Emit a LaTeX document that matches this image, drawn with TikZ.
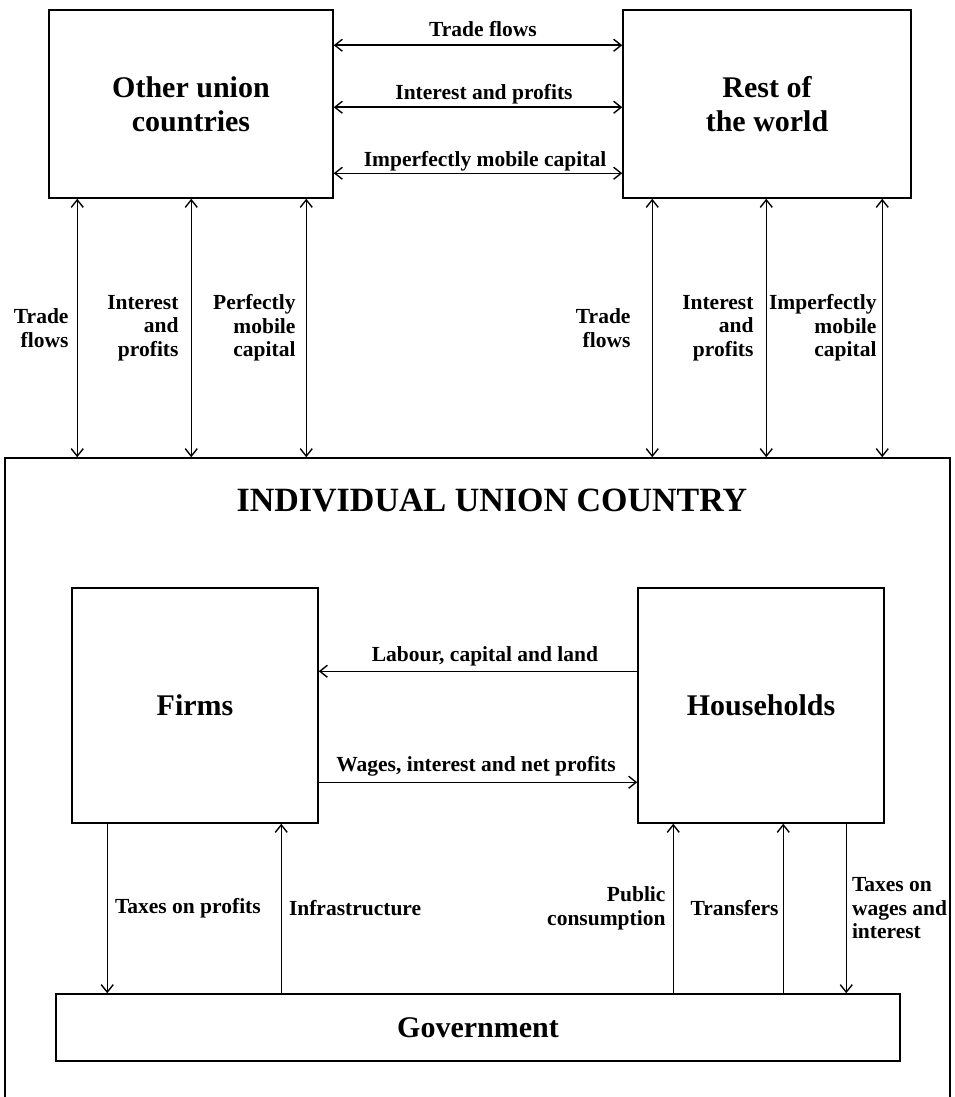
\documentclass[tikz,border=0pt]{standalone}
\usepackage{fontspec}
\setmainfont{Liberation Serif}
\usetikzlibrary{arrows.meta}
\begin{document}
\begin{tikzpicture}[x=1pt,y=-1pt,
  box/.style={draw, line width=1.5pt, inner sep=0pt, align=center, font=\bfseries\fontsize{30}{34}\selectfont},
  lbl/.style={font=\bfseries\fontsize{21.5}{23.5}\selectfont, inner sep=0pt},
  tip/.tip={Straight Barb[length=7.5pt,width=12pt,line width=1.4pt]},
  arr/.style={line width=1.5pt, -tip},
  darr/.style={line width=1.5pt, tip-tip}]
\useasboundingbox (0,0) rectangle (955,1097);
% boxes
\node[box, minimum width=284pt, minimum height=188pt] (ouc) at (191,104) {Other union\\countries};
\node[box, minimum width=288pt, minimum height=188pt] (row) at (767,104) {Rest of\\the world};
\node[box, minimum width=945pt, minimum height=641pt] (ind) at (477.5,778.5) {};
\node[font=\bfseries\fontsize{34}{40}\selectfont, inner sep=0pt] (title) at (492,500) {INDIVIDUAL UNION COUNTRY};
\node[box, minimum width=246pt, minimum height=235pt] (firms) at (195,705.5) {Firms};
\node[box, minimum width=246pt, minimum height=235pt] (hh) at (761,705.5) {Households};
\node[box, minimum width=844pt, minimum height=67pt] (gov) at (478,1027.5) {Government};
% top horizontal arrows
\draw[darr] ([yshift=-36pt]ouc.north east) -- ([yshift=-36pt]row.north west)
  node[lbl, midway, anchor=base, yshift=9pt, xshift=5pt] (l1) {Trade flows};
\draw[darr] ([yshift=-98pt]ouc.north east) -- ([yshift=-98pt]row.north west)
  node[lbl, midway, anchor=base, yshift=8pt, xshift=6pt] (l2) {Interest and profits};
\draw[darr] ([yshift=-164pt]ouc.north east) -- ([yshift=-164pt]row.north west)
  node[lbl, midway, anchor=base, yshift=7pt, xshift=7pt] (l3) {Imperfectly mobile capital};
% vertical arrows, left
\draw[darr] ([xshift=29pt]ouc.south west) -- ([xshift=29pt]ouc.south west |- ind.north)
  node[lbl, midway, left=8pt, align=right] (l4) {Trade\\flows};
\draw[darr] ([xshift=143pt]ouc.south west) -- ([xshift=143pt]ouc.south west |- ind.north)
  node[lbl, midway, left=12pt, align=right] (l5) {Interest\\and\\profits};
\draw[darr] ([xshift=258pt]ouc.south west) -- ([xshift=258pt]ouc.south west |- ind.north)
  node[lbl, midway, left=10pt, align=right] (l6) {Perfectly\\mobile\\capital};
% vertical arrows, right
\draw[darr] ([xshift=30pt]row.south west) -- ([xshift=30pt]row.south west |- ind.north)
  node[lbl, midway, left=21pt, align=right] (l7) {Trade\\flows};
\draw[darr] ([xshift=144pt]row.south west) -- ([xshift=144pt]row.south west |- ind.north)
  node[lbl, midway, left=12pt, align=right] (l8) {Interest\\and\\profits};
\draw[darr] ([xshift=260pt]row.south west) -- ([xshift=260pt]row.south west |- ind.north)
  node[lbl, midway, left=5pt, align=right] (l9) {Imperfectly\\mobile\\capital};
% firms - households
\draw[arr] ([yshift=-84pt]hh.north west) -- ([yshift=-84pt]firms.north east)
  node[lbl, midway, anchor=base, yshift=10pt, xshift=7pt] (l10) {Labour, capital and land};
\draw[arr] ([yshift=-195pt]firms.north east) -- ([yshift=-195pt]hh.north west)
  node[lbl, midway, anchor=base, yshift=11pt, xshift=-2pt] (l11) {Wages, interest and net profits};
% firms - government
\draw[arr] ([xshift=36pt]firms.south west) -- ([xshift=36pt]firms.south west |- gov.north)
  node[lbl, midway, right=7pt] (l12) {Taxes on profits};
\draw[arr] ([xshift=210pt]firms.south west |- gov.north) -- ([xshift=210pt]firms.south west)
  node[lbl, midway, right=7pt] (l13) {Infrastructure};
% households - government
\draw[arr] ([xshift=36pt]hh.south west |- gov.north) -- ([xshift=36pt]hh.south west)
  node[lbl, midway, left=7pt, align=right] (l14) {Public\\consumption};
\draw[arr] ([xshift=146pt]hh.south west |- gov.north) -- ([xshift=146pt]hh.south west)
  node[lbl, midway, left=4pt] (l15) {Transfers};
\draw[arr] ([xshift=209pt]hh.south west) -- ([xshift=209pt]hh.south west |- gov.north)
  node[lbl, midway, right=5pt, align=left] (l16) {Taxes on\\wages and\\interest};
\end{tikzpicture}
\end{document}
